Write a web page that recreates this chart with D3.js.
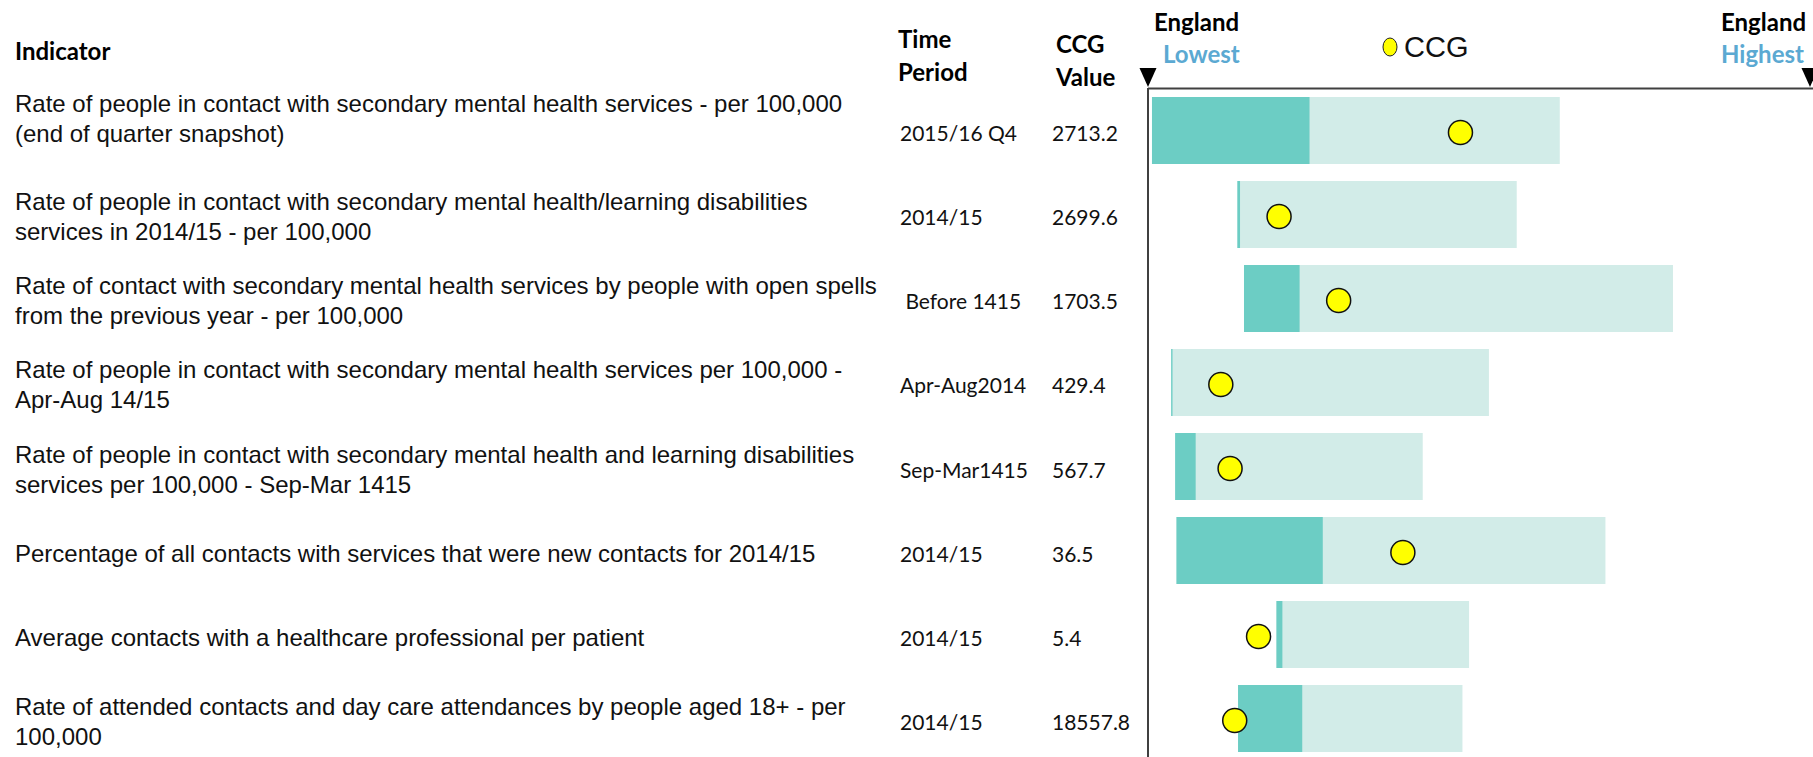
<!DOCTYPE html>
<html>
<head>
    <meta charset="UTF-8">
    <style>
        body{
            margin: 0;
            background-color: #ffffff;
        }
        svg text { white-space: pre; }
        .head { font-family: Lato, "Open Sans", sans-serif; font-weight: bold; fill: #000; font-size: 24px; }
        .ind { font-family: "Liberation Sans", Arial, Helvetica, sans-serif; font-size: 24px; fill: #111; }
        .cell { font-family: Lato, "Open Sans", sans-serif; font-size: 21px; fill: #111; }
    </style>
    <script src="https://cdnjs.cloudflare.com/ajax/libs/d3/7.8.5/d3.min.js"></script>
</head>
<body>
<div id="chart"></div>
<script>
    // indicator names, one array entry per row (lines split on "|")
    var indicators = [
        "Rate of people in contact with secondary mental health services - per 100,000|(end of quarter snapshot)",
        "Rate of people in contact with secondary mental health/learning disabilities|services in 2014/15 - per 100,000",
        "Rate of contact with secondary mental health services by people with open spells|from the previous year - per 100,000",
        "Rate of people in contact with secondary mental health services per 100,000 -|Apr-Aug 14/15",
        "Rate of people in contact with secondary mental health and learning disabilities|services per 100,000 - Sep-Mar 1415",
        "Percentage of all contacts with services that were new contacts for 2014/15",
        "Average contacts with a healthcare professional per patient",
        "Rate of attended contacts and day care attendances by people aged 18+ - per|100,000"
    ];
    var timePeriods = ["2015/16 Q4", "2014/15", " Before 1415", "Apr-Aug2014", "Sep-Mar1415", "2014/15", "2014/15", "2014/15"];
    var ccgValues = ["2713.2", "2699.6", "1703.5", "429.4", "567.7", "36.5", "5.4", "18557.8"];

    // spine positions on a 0 (England lowest) .. 100 (England highest) scale
    var rangeStart = [0.6, 13.5, 14.5, 3.5, 4.1, 4.3, 19.4, 13.6];
    var darkEnd    = [24.4, 13.9, 22.9, 3.7, 7.2, 26.4, 20.3, 23.3];
    var lightEnd   = [62.2, 55.7, 79.3, 51.5, 41.5, 69.1, 48.5, 47.5];
    var ccgPos     = [47.2, 19.8, 28.8, 11.0, 12.4, 38.5, 16.7, 13.1];

    var W = 1813, H = 757;
    var svg = d3.select("#chart").append("svg")
        .attr("width", W).attr("height", H);

    var x = d3.scaleLinear().domain([0, 100]).range([1148, 1810]);
    var y = d3.scaleBand()
        .domain(d3.range(indicators.length))
        .range([97, 752])
        .paddingInner(0.2024)
        .paddingOuter(0)
        .align(0);

    var dark = "#6ccdc4", light = "#d2ece8", axisCol = "#404040";

    // headers
    svg.append("text").attr("class", "head").attr("x", 15).attr("y", 60).text("Indicator");
    var tp = svg.append("text").attr("class", "head");
    tp.append("tspan").attr("x", 898).attr("y", 48).text("Time");
    tp.append("tspan").attr("x", 898).attr("y", 81).text("Period");
    var cv = svg.append("text").attr("class", "head");
    cv.append("tspan").attr("x", 1056).attr("y", 53).text("CCG");
    cv.append("tspan").attr("x", 1056).attr("y", 86).text("Value");

    svg.append("text").attr("class", "head").attr("x", 1154).attr("y", 31).text("England");
    svg.append("text").attr("class", "head").attr("x", 1163).attr("y", 63)
        .style("fill", "#5ba9d2").text("Lowest");
    svg.append("text").attr("class", "head").attr("x", 1721).attr("y", 31).text("England");
    svg.append("text").attr("class", "head").attr("x", 1721).attr("y", 63)
        .style("fill", "#5ba9d2").text("Highest");

    // legend
    svg.append("ellipse").attr("cx", 1390).attr("cy", 47).attr("rx", 7).attr("ry", 9)
        .attr("fill", "#ffff00").attr("stroke", "#222").attr("stroke-width", 1);
    svg.append("text").attr("x", 1404).attr("y", 57)
        .style("font-family", "'Liberation Sans', Arial, sans-serif")
        .style("font-size", "29px").style("fill", "#111").text("CCG");

    // axis lines and end markers
    svg.append("line").attr("x1", x(0)).attr("x2", W).attr("y1", 88.5).attr("y2", 88.5)
        .attr("stroke", axisCol).attr("stroke-width", 2);
    svg.append("line").attr("x1", x(0)).attr("x2", x(0)).attr("y1", 88).attr("y2", H)
        .attr("stroke", axisCol).attr("stroke-width", 2);
    [0, 100].forEach(function(v){
        var cx = x(v);
        svg.append("path")
            .attr("d", "M" + (cx - 8.5) + ",68 L" + (cx + 8.5) + ",68 L" + cx + ",87 Z")
            .attr("fill", "#000");
    });

    // rows
    var rows = svg.selectAll("g.row").data(indicators).enter()
        .append("g").attr("class", "row");

    rows.append("rect")
        .attr("x", function(d, i){ return x(rangeStart[i]); })
        .attr("y", function(d, i){ return y(i); })
        .attr("width", function(d, i){ return x(lightEnd[i]) - x(rangeStart[i]); })
        .attr("height", y.bandwidth())
        .attr("fill", light);

    rows.append("rect")
        .attr("x", function(d, i){ return x(rangeStart[i]); })
        .attr("y", function(d, i){ return y(i); })
        .attr("width", function(d, i){ return Math.max(1, x(darkEnd[i]) - x(rangeStart[i])); })
        .attr("height", y.bandwidth())
        .attr("fill", dark);

    rows.append("circle")
        .attr("cx", function(d, i){ return x(ccgPos[i]); })
        .attr("cy", function(d, i){ return y(i) + y.bandwidth() / 2 + 2; })
        .attr("r", 12)
        .attr("fill", "#ffff00")
        .attr("stroke", "#111")
        .attr("stroke-width", 1.5);

    // text columns
    rows.each(function(d, i){
        var g = d3.select(this);
        var mid = y(i) + y.bandwidth() / 2 + 3;
        var labelMid = i === 0 ? mid - 14 : mid;
        var lines = d.split("|");
        var t = g.append("text").attr("class", "ind");
        lines.forEach(function(line, k){
            t.append("tspan")
                .attr("x", 15)
                .attr("y", labelMid + 8 + (k - (lines.length - 1) / 2) * 30)
                .text(line);
        });
        g.append("text").attr("class", "cell").attr("x", 900).attr("y", mid + 8).text(timePeriods[i]);
        g.append("text").attr("class", "cell").attr("x", 1052).attr("y", mid + 8).text(ccgValues[i]);
    });
</script>
</body>
</html>
